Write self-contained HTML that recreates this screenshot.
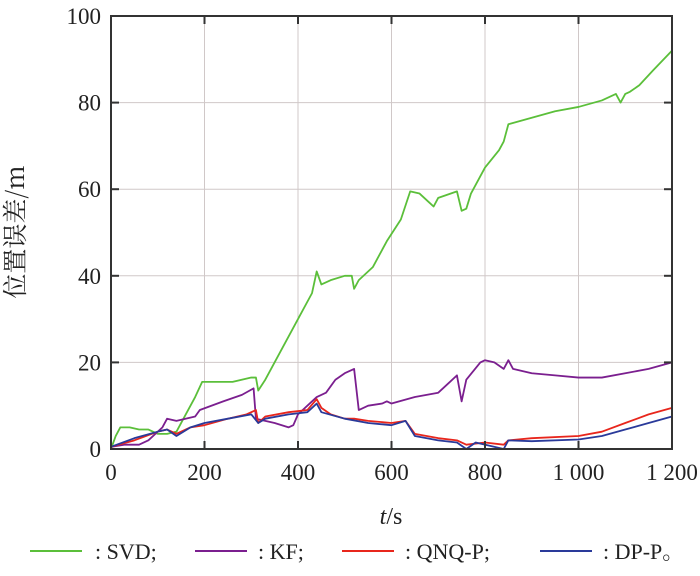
<!DOCTYPE html>
<html><head><meta charset="utf-8"><style>
body{margin:0;background:#fff;}
svg, svg text{font-family:"Liberation Serif","Noto Serif CJK SC",serif;}
svg text{fill:#222;}
</style></head><body>
<svg width="700" height="571" font-family="Liberation Serif, Noto Serif CJK SC, serif">
<g id="grid"></g>
<g id="series"></g>
<rect x="111" y="16" width="561" height="433" fill="none" stroke="#333" stroke-width="2"/>
<g id="ticks"></g>
<text x="24" y="232" font-size="25" text-anchor="middle" transform="rotate(-90 24 232)" style="font-family:'Noto Serif CJK SC','Liberation Serif',serif">位置误差/m</text>
<text x="391" y="524" font-size="24" text-anchor="middle"><tspan font-style="italic">t</tspan>/s</text>
<g>
<line x1="30" y1="551" x2="82" y2="551" stroke="#5bbf3a" stroke-width="2"/>
<text x="95" y="559" font-size="22">: SVD;</text>
<line x1="195" y1="551" x2="247" y2="551" stroke="#7b1f8f" stroke-width="2"/>
<text x="258" y="559" font-size="22">: KF;</text>
<line x1="342" y1="551" x2="394" y2="551" stroke="#e8261c" stroke-width="2"/>
<text x="405" y="559" font-size="22">: QNQ-P;</text>
<line x1="540" y1="551" x2="592" y2="551" stroke="#2a3a9a" stroke-width="2"/>
<text x="603" y="559" font-size="22">: DP-P。</text>
</g>
</svg>
<script>
const xTicks=[0,200,400,600,800,1000,1200];
const xTickLabels=["0","200","400","600","800","1 000","1 200"];
const yTicks=[0,20,40,60,80,100];
const svdT=[0,10,20,40,60,80,100,120,140,160,180,195,220,260,300,310,315,330,360,400,430,440,450,470,500,515,520,530,560,590,620,640,660,680,690,700,740,750,760,770,800,830,840,850,900,950,1000,1050,1080,1090,1100,1110,1130,1160,1200];
const svdV=[0,3,5,5,4.5,4.5,3.5,3.5,4,8,12,15.5,15.5,15.5,16.5,16.5,13.5,16,22,30,36,41,38,39,40,40,37,39,42,48,53,59.5,59,57,56,58,59.5,55,55.5,59,65,69,71,75,76.5,78,79,80.5,82,80,82,82.5,84,87.5,92];
const kfT=[0,30,60,80,110,120,140,180,190,240,280,305,310,350,380,390,400,420,440,460,480,500,520,530,550,580,590,600,650,700,720,740,745,750,760,790,800,820,840,850,860,900,950,1000,1050,1100,1150,1200];
const kfV=[0.5,1,1,2,5,7,6.5,7.5,9,11,12.5,14,7,6,5,5.5,8,10,12,13,16,17.5,18.5,9,10,10.5,11,10.5,12,13,15,17,14,11,16,20,20.5,20,18.5,20.5,18.5,17.5,17,16.5,16.5,17.5,18.5,20];
const qnqT=[0,50,100,120,140,170,200,250,290,310,315,330,380,420,440,450,470,500,520,550,600,630,650,700,740,760,800,840,850,900,1000,1050,1100,1150,1200];
const qnqV=[0.5,2,4,4.5,3.5,5,5.5,7,8,9,6,7.5,8.5,9,11.5,9.5,8,7,7,6.5,6,6.5,3.5,2.5,2,1,1.5,1,2,2.5,3,4,6,8,9.5];
const dpT=[0,50,100,120,140,170,200,250,300,315,330,380,420,440,450,500,550,600,630,650,700,740,760,780,840,850,900,1000,1050,1100,1150,1200];
const dpV=[0.5,2.5,4,4.5,3,5,6,7,8,6,7,8,8.5,10.5,8.5,7,6,5.5,6.5,3,2,1.5,0,1.5,0,2,1.8,2.2,3,4.5,6,7.5];
const X=t=>111+t/1200*561, Y=v=>449-v/100*433;
const NS="http://www.w3.org/2000/svg";
const grid=document.getElementById('grid'), ticks=document.getElementById('ticks'), ser=document.getElementById('series');
function mk(tag,attrs,parent){const e=document.createElementNS(NS,tag);for(const k in attrs)e.setAttribute(k,attrs[k]);parent.appendChild(e);return e;}
xTicks.forEach((t,i)=>{
 const g=mk('line',{x1:X(t),x2:X(t),y1:16,y2:449,stroke:'#d0c8c8','stroke-width':1},grid);
 
 
 const tk=mk('text',{x:X(t),y:480,'font-size':23,'text-anchor':'middle','font-family':'Liberation Serif, serif'},ticks);
 tk.textContent=xTickLabels[i];
 
 
 mk('line',{x1:X(t),x2:X(t),y1:449,y2:441,stroke:'#333','stroke-width':2},ticks);
 mk('line',{x1:X(t),x2:X(t),y1:16,y2:24,stroke:'#333','stroke-width':2},ticks);
});
yTicks.forEach(v=>{
 const g=mk('line',{x1:111,x2:672,y1:Y(v),y2:Y(v),stroke:'#d0c8c8','stroke-width':1},grid);
 
 
 const tk=mk('text',{x:101,y:Y(v)+8,'font-size':23,'text-anchor':'end','font-family':'Liberation Serif, serif'},ticks);
 tk.textContent=v;
 
 
 mk('line',{x1:111,x2:119,y1:Y(v),y2:Y(v),stroke:'#333','stroke-width':2},ticks);
 mk('line',{x1:664,x2:672,y1:Y(v),y2:Y(v),stroke:'#333','stroke-width':2},ticks);
});
function line(T,V,color,name){
 const p=mk('polyline',{points:T.map((t,i)=>X(t)+','+Y(V[i])).join(' '),fill:'none',stroke:color,'stroke-width':1.8,'stroke-linejoin':'round'},ser);
 
 
}
line(svdT,svdV,'#5bbf3a','svd-line');
line(kfT,kfV,'#7b1f8f','kf-line');
line(qnqT,qnqV,'#e8261c','qnq-p-line');
line(dpT,dpV,'#2a3a9a','dp-p-line');
</script>
</body></html>
